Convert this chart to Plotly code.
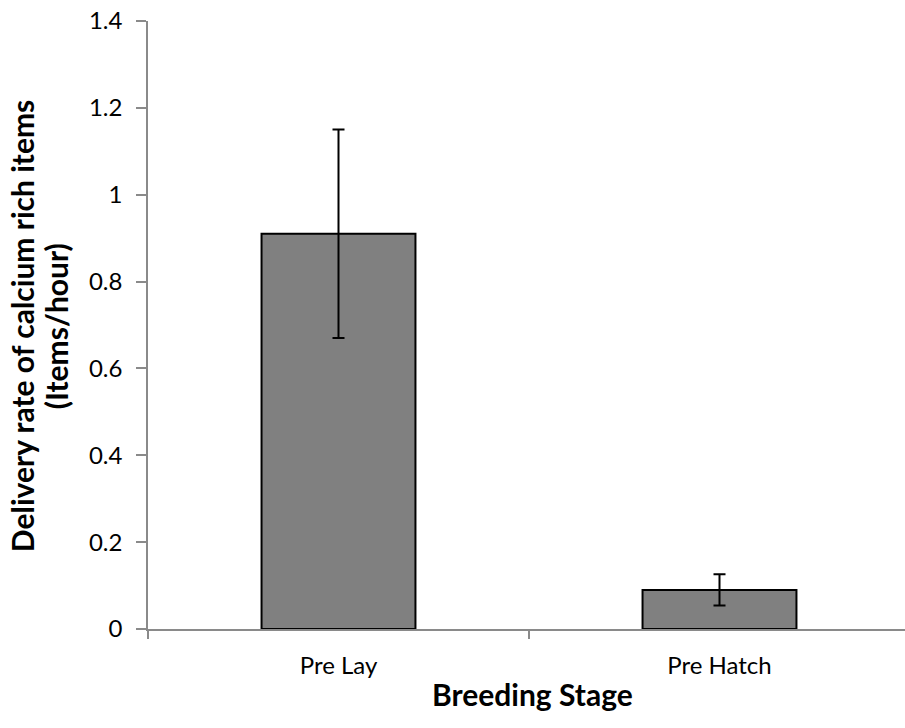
import plotly.graph_objects as go

categories = ["Pre Lay", "Pre Hatch"]
delivery_rate = [0.91, 0.09]
error_values = [0.24, 0.036]
y_ticks = [0, 0.2, 0.4, 0.6, 0.8, 1.0, 1.2, 1.4]
y_tick_labels = ["0", "0.2", "0.4", "0.6", "0.8", "1", "1.2", "1.4"]
y_title_lines = ["Delivery rate of calcium rich items", "(Items/hour)"]
x_title = "Breeding Stage"

W, H = 905, 728
L, T, B = 148, 20.7, 99
plot_w = W - L
plot_h = H - T - B
cat_px = 381

FONT = "Lato"
AXIS_COL = "#8a8a8a"

fig = go.Figure()
fig.add_trace(go.Bar(
    x=categories,
    y=delivery_rate,
    width=0.404,
    marker=dict(color="#808080", line=dict(color="black", width=2)),
    error_y=dict(type="data", array=error_values, visible=True,
                 color="black", thickness=2, width=6),
))

fig.update_layout(
    width=W, height=H,
    margin=dict(l=L, r=0, t=T, b=B),
    paper_bgcolor="white", plot_bgcolor="white",
    showlegend=False,
    font=dict(family=FONT, size=24, color="black"),
    xaxis=dict(
        type="category",
        range=[-0.5, -0.5 + plot_w / cat_px],
        showline=True, linecolor=AXIS_COL, linewidth=1.5,
        ticks="outside", tickson="boundaries", ticklen=8,
        tickcolor=AXIS_COL, tickwidth=1.5,
        showgrid=False, zeroline=False,
        tickfont=dict(family=FONT, size=24, color="black"),
        ticklabelstandoff=14,
    ),
    yaxis=dict(
        range=[0, 1.4],
        tickvals=y_ticks, ticktext=y_tick_labels,
        showline=True, linecolor=AXIS_COL, linewidth=1.5,
        ticks="outside", ticklen=10, tickcolor=AXIS_COL, tickwidth=1.5,
        showgrid=False, zeroline=False,
        tickfont=dict(family=FONT, size=24, color="black"),
        ticklabelstandoff=9,
    ),
)

for line, xpx in zip(y_title_lines, [22, 56]):
    fig.add_annotation(
        text="<b>" + line + "</b>",
        xref="paper", yref="paper",
        x=(xpx - L) / plot_w, y=(629 - 326) / plot_h,
        xanchor="center", yanchor="middle",
        textangle=-90, showarrow=False,
        font=dict(family=FONT, size=30, color="black"),
    )
fig.add_annotation(
    text="<b>" + x_title + "</b>",
    xref="paper", yref="paper",
    x=(532 - L) / plot_w, y=-(694 - 629) / plot_h,
    xanchor="center", yanchor="middle",
    showarrow=False,
    font=dict(family=FONT, size=30, color="black"),
)

fig.write_html("out.html")
